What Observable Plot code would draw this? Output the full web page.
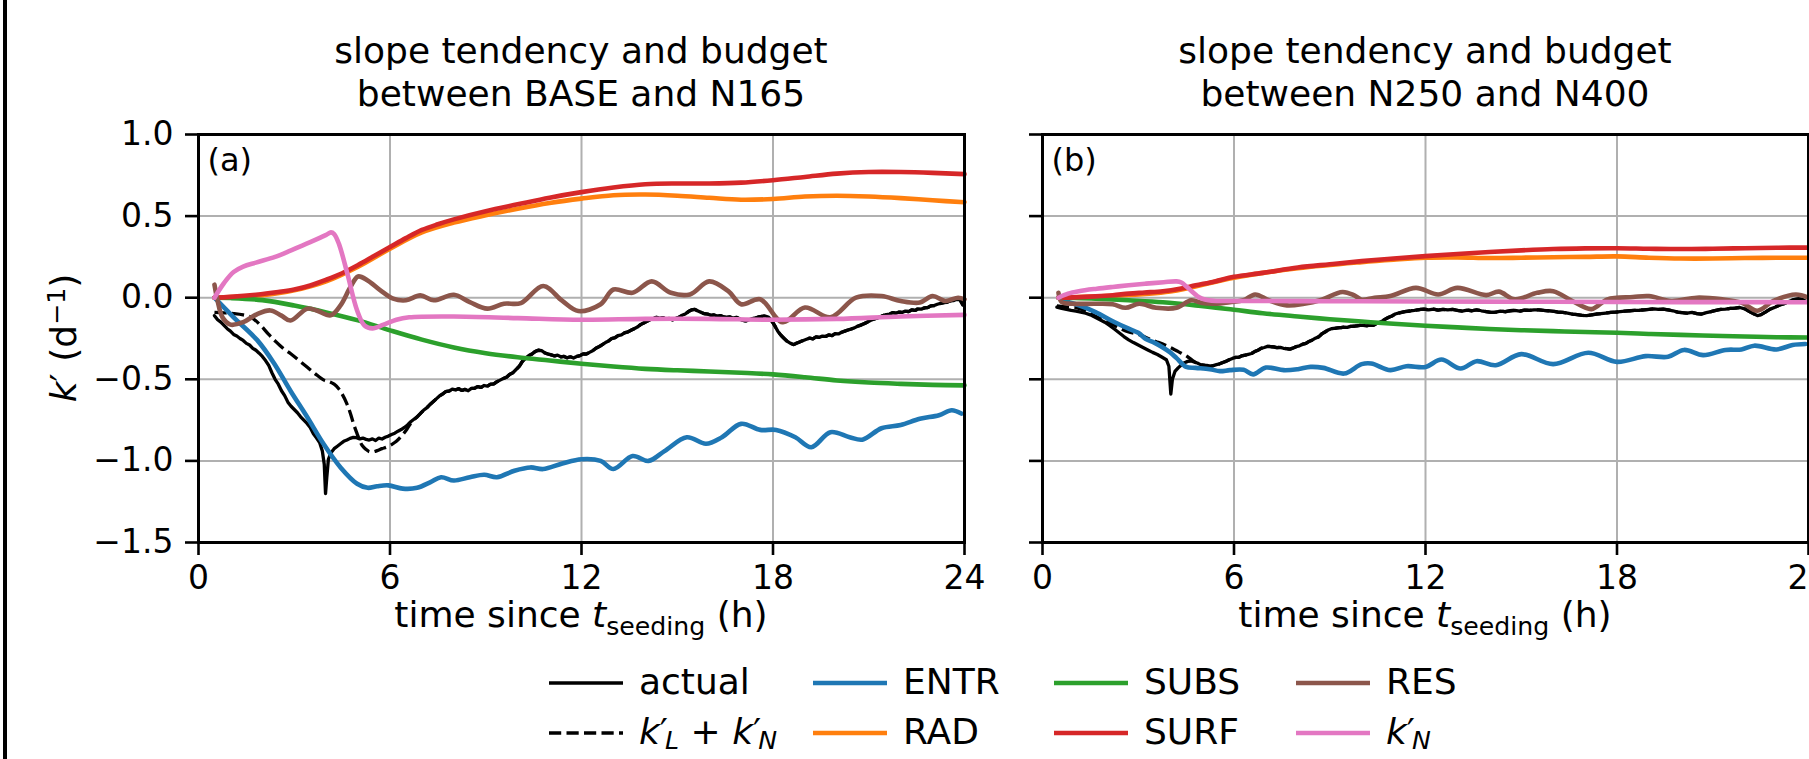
<!DOCTYPE html>
<html>
<head>
<meta charset="utf-8">
<script src="https://cdn.jsdelivr.net/npm/d3@7"></script>
<script src="https://cdn.jsdelivr.net/npm/@observablehq/plot@0.6"></script>
<style>
  html, body { margin: 0; padding: 0; background: #fff; }
  #fig { position: relative; width: 1809px; height: 759px; overflow: hidden; background: #fff;
         font-family: "DejaVu Sans", sans-serif; color: #000; }
  #fig svg { position: absolute; top: 0; max-width: none; }
  .abs { position: absolute; white-space: nowrap; }
  .title { font-size: 36px; line-height: 43px; text-align: center; width: 800px; }
  .xlab { font-size: 36px; line-height: 36px; text-align: center; width: 800px; }
  .ylab { font-size: 36px; line-height: 36px; transform: translate(-50%, -50%) rotate(-90deg); }
  .leg { font-size: 36px; line-height: 36px; }
  .sub { font-size: 0.7em; position: relative; top: 0.32em; }
  .sup { font-size: 0.7em; position: relative; top: -0.45em; }
  .isub { font-size: 0.7em; position: relative; top: 0.18em; font-style: italic; margin-left: -0.12em; }
  .border { position: absolute; left: 3px; top: 0; width: 4px; height: 759px; background: #000; }
</style>
</head>
<body>
<div id="fig"></div>
<script>
// ---- axis ticks -------------------------------------------------------
const X_TICKS = [0, 6, 12, 18, 24];
const Y_TICKS = [-1.5, -1.0, -0.5, 0.0, 0.5, 1.0];

// ---- panel (a): BASE vs N165, [hour, k' (1/day)] ------------------------
const A_ACTUAL = [[0.5,-0.11],[0.6,-0.135],[0.7,-0.15],[0.8,-0.17],[0.9,-0.19],[1.0,-0.205],[1.1,-0.225],[1.2,-0.235],[1.3,-0.25],[1.4,-0.262],[1.5,-0.28],[1.6,-0.29],[1.7,-0.31],[1.8,-0.322],[1.9,-0.34],[2.0,-0.36],[2.1,-0.385],[2.2,-0.415],[2.3,-0.46],[2.4,-0.5],[2.5,-0.53],[2.6,-0.57],[2.7,-0.6],[2.8,-0.64],[2.9,-0.665],[3.0,-0.685],[3.1,-0.705],[3.2,-0.73],[3.3,-0.75],[3.4,-0.77],[3.5,-0.795],[3.6,-0.834],[3.7,-0.86],[3.8,-0.89],[3.88,-0.94],[3.94,-1.02],[3.98,-1.2],[4.02,-1.1],[4.07,-0.99],[4.15,-0.95],[4.25,-0.925],[4.35,-0.91],[4.45,-0.895],[4.55,-0.88],[4.65,-0.872],[4.75,-0.862],[4.85,-0.856],[4.95,-0.858],[5.05,-0.865],[5.15,-0.86],[5.25,-0.868],[5.35,-0.872],[5.45,-0.865],[5.55,-0.875],[5.65,-0.86],[5.75,-0.866],[5.85,-0.855],[5.95,-0.848],[6.05,-0.838],[6.15,-0.83],[6.25,-0.818],[6.35,-0.808],[6.45,-0.795],[6.55,-0.78],[6.65,-0.76],[6.75,-0.745],[6.85,-0.73],[6.95,-0.71],[7.05,-0.69],[7.15,-0.675],[7.25,-0.655],[7.35,-0.638],[7.45,-0.62],[7.55,-0.602],[7.65,-0.59],[7.75,-0.575],[7.85,-0.572],[7.95,-0.56],[8.05,-0.565],[8.15,-0.558],[8.25,-0.568],[8.35,-0.562],[8.45,-0.57],[8.55,-0.556],[8.65,-0.555],[8.75,-0.545],[8.85,-0.55],[8.95,-0.538],[9.05,-0.542],[9.15,-0.53],[9.25,-0.528],[9.35,-0.515],[9.45,-0.505],[9.55,-0.495],[9.65,-0.487],[9.75,-0.47],[9.85,-0.46],[9.95,-0.44],[10.05,-0.42],[10.15,-0.39],[10.25,-0.37],[10.35,-0.355],[10.45,-0.345],[10.55,-0.33],[10.65,-0.322],[10.75,-0.325],[10.85,-0.338],[10.95,-0.345],[11.05,-0.35],[11.15,-0.357],[11.25,-0.352],[11.35,-0.362],[11.45,-0.36],[11.55,-0.368],[11.65,-0.362],[11.75,-0.37],[11.85,-0.36],[11.95,-0.355],[12.05,-0.345],[12.15,-0.345],[12.25,-0.335],[12.35,-0.325],[12.45,-0.31],[12.55,-0.3],[12.65,-0.288],[12.75,-0.275],[12.85,-0.265],[12.95,-0.25],[13.05,-0.245],[13.15,-0.232],[13.25,-0.228],[13.35,-0.215],[13.45,-0.21],[13.55,-0.2],[13.65,-0.19],[13.75,-0.18],[13.85,-0.165],[13.95,-0.155],[14.05,-0.145],[14.15,-0.135],[14.25,-0.128],[14.35,-0.12],[14.45,-0.128],[14.55,-0.122],[14.65,-0.132],[14.75,-0.127],[14.85,-0.135],[14.95,-0.128],[15.05,-0.12],[15.15,-0.108],[15.25,-0.1],[15.35,-0.085],[15.45,-0.075],[15.55,-0.072],[15.65,-0.082],[15.75,-0.09],[15.85,-0.098],[15.95,-0.1],[16.05,-0.108],[16.15,-0.105],[16.25,-0.112],[16.35,-0.11],[16.45,-0.118],[16.55,-0.12],[16.65,-0.118],[16.75,-0.125],[16.85,-0.12],[16.95,-0.13],[17.05,-0.138],[17.15,-0.142],[17.25,-0.135],[17.35,-0.128],[17.45,-0.125],[17.55,-0.118],[17.65,-0.115],[17.75,-0.112],[17.85,-0.118],[17.95,-0.14],[18.05,-0.17],[18.15,-0.205],[18.25,-0.23],[18.35,-0.25],[18.45,-0.268],[18.55,-0.28],[18.65,-0.287],[18.75,-0.278],[18.85,-0.27],[18.95,-0.262],[19.05,-0.255],[19.15,-0.248],[19.25,-0.252],[19.35,-0.24],[19.45,-0.243],[19.55,-0.235],[19.65,-0.237],[19.75,-0.228],[19.85,-0.232],[19.95,-0.22],[20.05,-0.222],[20.15,-0.212],[20.25,-0.205],[20.35,-0.198],[20.45,-0.192],[20.55,-0.185],[20.65,-0.175],[20.75,-0.168],[20.85,-0.16],[20.95,-0.15],[21.05,-0.14],[21.15,-0.132],[21.25,-0.125],[21.35,-0.118],[21.45,-0.11],[21.55,-0.103],[21.65,-0.1],[21.75,-0.092],[21.85,-0.095],[21.95,-0.088],[22.05,-0.09],[22.15,-0.082],[22.25,-0.085],[22.35,-0.075],[22.45,-0.078],[22.55,-0.068],[22.65,-0.07],[22.75,-0.062],[22.85,-0.06],[22.95,-0.05],[23.05,-0.048],[23.15,-0.04],[23.25,-0.035],[23.35,-0.03],[23.45,-0.028],[23.55,-0.02],[23.65,-0.018],[23.75,-0.01],[23.85,-0.012],[23.95,-0.045]];
const A_KLKN_EARLY = [[0.5,-0.09],[0.8,-0.093],[1.1,-0.097],[1.4,-0.105],[1.65,-0.12],[1.95,-0.17],[2.2,-0.225],[2.4,-0.265],[2.65,-0.31],[2.9,-0.345],[3.15,-0.385],[3.4,-0.425],[3.65,-0.465],[3.93,-0.505],[4.1,-0.515],[4.25,-0.53],[4.4,-0.56],[4.5,-0.59],[4.65,-0.65],[4.76,-0.71],[4.87,-0.78],[4.97,-0.834],[5.05,-0.875],[5.13,-0.906],[5.25,-0.93],[5.34,-0.942],[5.45,-0.945],[5.6,-0.937],[5.75,-0.925],[5.9,-0.915],[6.05,-0.9],[6.2,-0.88],[6.35,-0.85],[6.5,-0.814],[6.65,-0.77]];
const A_ENTR = [[0.5,0],[1.1,-0.12],[1.84,-0.26],[2.36,-0.40],[2.88,-0.57],[3.4,-0.73],[3.93,-0.9],[4.45,-1.04],[4.97,-1.14],[5.3,-1.165],[5.6,-1.155],[5.95,-1.15],[6.4,-1.17],[6.85,-1.165],[7.27,-1.13],[7.6,-1.1],[8.0,-1.12],[8.5,-1.1],[8.95,-1.085],[9.35,-1.1],[9.9,-1.06],[10.4,-1.04],[10.8,-1.05],[11.4,-1.016],[12.0,-0.99],[12.6,-1.0],[13.0,-1.05],[13.6,-0.97],[14.1,-1.0],[14.6,-0.94],[15.3,-0.855],[15.9,-0.895],[16.4,-0.855],[17.0,-0.773],[17.6,-0.81],[18.1,-0.81],[18.7,-0.855],[19.2,-0.916],[19.8,-0.824],[20.4,-0.855],[20.8,-0.87],[21.4,-0.8],[22.0,-0.78],[22.6,-0.742],[23.2,-0.72],[23.6,-0.69],[23.9,-0.71]];
const A_RAD = [[0.5,0],[1,0.004],[2,0.015],[3,0.045],[4,0.1],[5,0.19],[6,0.3],[7,0.4],[8,0.46],[9,0.505],[10,0.545],[11,0.58],[12,0.607],[13,0.628],[14,0.632],[15,0.625],[16,0.612],[17,0.6],[18,0.605],[19,0.62],[20,0.625],[21,0.62],[22,0.61],[23,0.597],[24,0.585]];
const A_SUBS = [[0.5,0],[1,-0.002],[2,-0.015],[3,-0.048],[4,-0.09],[5,-0.139],[6,-0.2],[7,-0.257],[8,-0.305],[9,-0.34],[10,-0.365],[11,-0.385],[12,-0.405],[13,-0.422],[14,-0.436],[15,-0.445],[16,-0.452],[17,-0.46],[18,-0.47],[19,-0.487],[20,-0.507],[21,-0.52],[22,-0.528],[23,-0.534],[24,-0.537]];
const A_SURF = [[0.5,0],[1,0.005],[1.8,0.018],[2.5,0.035],[3,0.05],[3.5,0.075],[4,0.11],[4.5,0.15],[5,0.2],[5.5,0.255],[6,0.31],[6.5,0.365],[7,0.415],[7.5,0.45],[8,0.48],[9,0.53],[10,0.572],[11,0.613],[12,0.647],[13,0.675],[14,0.695],[15,0.7],[16,0.7],[17,0.705],[18,0.72],[19,0.74],[20,0.76],[21,0.77],[22,0.77],[23,0.765],[24,0.757]];
const A_RES = [[0.5,0.08],[0.6,-0.02],[0.75,-0.12],[1.0,-0.165],[1.4,-0.15],[1.84,-0.1],[2.25,-0.078],[2.6,-0.11],[2.88,-0.14],[3.4,-0.067],[3.7,-0.078],[4.14,-0.108],[4.45,-0.047],[4.76,0.065],[5.0,0.13],[5.3,0.106],[5.7,0.045],[6.1,-0.006],[6.5,-0.016],[6.95,0.014],[7.37,-0.016],[8.0,0.018],[8.5,-0.027],[9.05,-0.067],[9.57,-0.037],[10.1,-0.033],[10.8,0.072],[11.4,-0.02],[11.9,-0.082],[12.6,-0.04],[13.0,0.05],[13.6,0.03],[14.2,0.1],[14.8,0.03],[15.4,0.02],[16.0,0.1],[16.6,0.04],[17.0,-0.04],[17.6,-0.01],[18.3,-0.15],[19.0,-0.06],[19.8,-0.12],[20.6,0.0],[21.4,0.01],[22.0,-0.02],[22.6,-0.03],[23.0,0.01],[23.4,-0.02],[23.8,0.0],[24,-0.01]];
const A_KN = [[0.5,0],[0.8,0.09],[1.1,0.157],[1.4,0.19],[1.8,0.215],[2.4,0.25],[2.9,0.29],[3.5,0.34],[4.0,0.385],[4.15,0.4],[4.25,0.39],[4.4,0.33],[4.66,0.15],[4.97,-0.078],[5.2,-0.17],[5.45,-0.188],[5.8,-0.165],[6.2,-0.135],[6.6,-0.12],[8,-0.115],[10,-0.125],[12,-0.135],[14,-0.13],[16,-0.13],[18,-0.135],[20,-0.13],[22,-0.115],[24,-0.105]];

// ---- panel (b): N250 vs N400 ---------------------------------------------
const B_ACTUAL = [[0.45,-0.058],[0.6,-0.066],[0.75,-0.072],[0.9,-0.078],[1.05,-0.082],[1.2,-0.088],[1.35,-0.095],[1.5,-0.105],[1.65,-0.12],[1.8,-0.135],[1.95,-0.15],[2.1,-0.17],[2.25,-0.192],[2.4,-0.215],[2.55,-0.238],[2.7,-0.258],[2.85,-0.275],[3.0,-0.29],[3.15,-0.305],[3.3,-0.32],[3.45,-0.335],[3.6,-0.348],[3.75,-0.365],[3.88,-0.38],[3.96,-0.42],[4.02,-0.59],[4.07,-0.5],[4.15,-0.452],[4.25,-0.43],[4.35,-0.412],[4.45,-0.398],[4.55,-0.39],[4.65,-0.388],[4.75,-0.394],[4.85,-0.4],[4.95,-0.41],[5.05,-0.418],[5.15,-0.415],[5.25,-0.42],[5.35,-0.416],[5.45,-0.41],[5.55,-0.405],[5.65,-0.397],[5.75,-0.39],[5.85,-0.38],[5.95,-0.372],[6.05,-0.366],[6.15,-0.365],[6.25,-0.356],[6.35,-0.352],[6.45,-0.347],[6.55,-0.342],[6.65,-0.33],[6.75,-0.322],[6.85,-0.31],[6.95,-0.305],[7.05,-0.298],[7.15,-0.3],[7.25,-0.302],[7.35,-0.306],[7.45,-0.304],[7.55,-0.31],[7.65,-0.312],[7.75,-0.315],[7.85,-0.308],[7.95,-0.3],[8.05,-0.295],[8.15,-0.285],[8.25,-0.28],[8.35,-0.268],[8.45,-0.26],[8.55,-0.248],[8.65,-0.24],[8.75,-0.222],[8.85,-0.21],[8.95,-0.198],[9.05,-0.19],[9.15,-0.188],[9.25,-0.185],[9.35,-0.183],[9.45,-0.18],[9.55,-0.182],[9.65,-0.176],[9.75,-0.175],[9.85,-0.172],[9.95,-0.17],[10.05,-0.17],[10.15,-0.172],[10.25,-0.168],[10.35,-0.17],[10.45,-0.16],[10.55,-0.152],[10.65,-0.142],[10.75,-0.13],[10.85,-0.12],[10.95,-0.112],[11.05,-0.1],[11.15,-0.095],[11.25,-0.09],[11.35,-0.085],[11.45,-0.083],[11.55,-0.08],[11.65,-0.078],[11.75,-0.075],[11.85,-0.072],[11.95,-0.07],[12.1,-0.074],[12.25,-0.07],[12.4,-0.076],[12.55,-0.071],[12.7,-0.075],[12.85,-0.072],[13.0,-0.078],[13.15,-0.082],[13.3,-0.076],[13.45,-0.08],[13.6,-0.074],[13.75,-0.08],[13.9,-0.085],[14.05,-0.09],[14.2,-0.088],[14.35,-0.082],[14.5,-0.086],[14.65,-0.08],[14.8,-0.078],[14.95,-0.082],[15.1,-0.076],[15.25,-0.078],[15.4,-0.074],[15.55,-0.075],[15.7,-0.078],[15.85,-0.08],[16.0,-0.083],[16.15,-0.088],[16.3,-0.09],[16.45,-0.094],[16.6,-0.1],[16.75,-0.104],[16.9,-0.108],[17.05,-0.11],[17.2,-0.105],[17.35,-0.1],[17.5,-0.098],[17.65,-0.094],[17.8,-0.09],[17.95,-0.088],[18.1,-0.085],[18.25,-0.082],[18.4,-0.08],[18.55,-0.078],[18.7,-0.077],[18.85,-0.074],[19.0,-0.072],[19.15,-0.068],[19.3,-0.072],[19.45,-0.07],[19.6,-0.075],[19.75,-0.08],[19.9,-0.088],[20.05,-0.092],[20.2,-0.095],[20.35,-0.09],[20.5,-0.098],[20.65,-0.1],[20.8,-0.092],[20.95,-0.085],[21.1,-0.078],[21.25,-0.072],[21.4,-0.07],[21.55,-0.066],[21.7,-0.064],[21.85,-0.06],[22.0,-0.068],[22.15,-0.085],[22.3,-0.1],[22.4,-0.11],[22.5,-0.105],[22.65,-0.088],[22.8,-0.07],[22.95,-0.058],[23.1,-0.045],[23.25,-0.035],[23.4,-0.022],[23.55,-0.012],[23.7,-0.008],[23.85,-0.015],[24.0,-0.03]];
const B_KLKN_EARLY = [[0.45,-0.05],[0.8,-0.058],[1.14,-0.065],[1.4,-0.085],[1.66,-0.113],[1.95,-0.14],[2.2,-0.165],[2.45,-0.19],[2.7,-0.21],[2.93,-0.22],[3.15,-0.235],[3.35,-0.253],[3.55,-0.268],[3.77,-0.284],[4.0,-0.305],[4.2,-0.325],[4.35,-0.34],[4.5,-0.356],[4.65,-0.377],[4.8,-0.397],[4.95,-0.408],[5.1,-0.414]];
const B_ENTR = [[0.5,0],[0.8,-0.025],[1.14,-0.047],[1.66,-0.088],[2.2,-0.144],[2.7,-0.19],[3.0,-0.215],[3.24,-0.253],[3.5,-0.275],[3.77,-0.305],[4.0,-0.335],[4.2,-0.37],[4.5,-0.424],[4.8,-0.43],[5.24,-0.438],[5.56,-0.45],[5.87,-0.444],[6.3,-0.442],[6.6,-0.47],[7.0,-0.428],[7.56,-0.444],[8.0,-0.438],[8.4,-0.424],[8.8,-0.43],[9.45,-0.465],[10.0,-0.407],[10.3,-0.403],[10.9,-0.444],[11.4,-0.42],[12.0,-0.424],[12.5,-0.379],[13.1,-0.434],[13.6,-0.389],[14.2,-0.414],[15.0,-0.346],[16.0,-0.407],[17.1,-0.337],[18.0,-0.393],[18.9,-0.358],[19.6,-0.362],[20.1,-0.32],[20.7,-0.352],[21.4,-0.32],[21.9,-0.317],[22.3,-0.294],[23.0,-0.317],[23.5,-0.29],[23.9,-0.284]];
const B_RAD = [[0.5,0],[2,0.01],[4,0.038],[6,0.123],[8,0.18],[10,0.218],[11,0.233],[12,0.245],[13,0.247],[14,0.243],[15,0.245],[16,0.248],[17,0.25],[18,0.253],[19,0.245],[20,0.24],[21,0.24],[22,0.243],[23,0.245],[24,0.245]];
const B_SUBS = [[0.5,0],[1,-0.002],[1.66,-0.006],[2.7,-0.016],[3.77,-0.028],[4.8,-0.047],[6,-0.074],[6.9,-0.095],[8,-0.115],[9,-0.132],[10,-0.146],[11,-0.16],[12,-0.172],[13,-0.182],[14,-0.192],[15,-0.199],[16,-0.205],[17,-0.21],[18,-0.215],[19,-0.222],[20,-0.228],[21,-0.233],[22,-0.238],[23,-0.242],[24,-0.244]];
const B_SURF = [[0.5,0],[1,0.002],[1.66,0.008],[2.2,0.015],[2.7,0.025],[3.2,0.032],[3.77,0.04],[4.3,0.055],[4.8,0.076],[5.4,0.1],[6,0.128],[6.9,0.152],[8,0.185],[9,0.205],[10,0.224],[11,0.24],[12,0.255],[13,0.268],[14,0.28],[15,0.29],[16,0.298],[17,0.302],[18,0.303],[19,0.3],[20,0.298],[21,0.3],[22,0.303],[23,0.306],[24,0.307]];
const B_RES = [[0.5,0.03],[0.6,-0.027],[0.93,-0.037],[1.66,-0.037],[2.2,-0.04],[2.6,-0.062],[3.03,-0.037],[3.56,-0.062],[4.2,-0.062],[4.66,-0.016],[5.0,-0.033],[5.45,-0.037],[5.87,-0.027],[6.3,-0.016],[6.66,0.02],[7.1,-0.016],[7.66,-0.047],[8.2,-0.037],[8.7,-0.016],[9.4,0.035],[9.77,0.014],[10.0,-0.012],[10.4,0.0],[10.9,0.01],[11.7,0.06],[12.4,0.02],[13.0,0.06],[13.9,0.016],[14.3,0.037],[14.8,-0.01],[15.5,0.03],[16.0,0.04],[16.6,-0.02],[17.2,-0.07],[17.7,-0.01],[18.5,0.004],[19.0,0.01],[19.7,-0.02],[20.5,0.0],[21.3,-0.01],[21.9,-0.03],[22.4,-0.08],[22.9,-0.02],[23.6,0.02],[24,0.0]];
const B_KN = [[0.5,0],[0.8,0.025],[1.14,0.04],[1.7,0.055],[2.2,0.066],[2.7,0.076],[3.24,0.086],[3.8,0.095],[4.2,0.1],[4.35,0.093],[4.5,0.07],[4.7,0.035],[4.85,0.01],[5.0,-0.006],[5.2,-0.016],[5.45,-0.02],[6,-0.02],[8,-0.021],[10,-0.022],[12,-0.023],[14,-0.024],[16,-0.025],[18,-0.026],[20,-0.027],[22,-0.027],[24,-0.028]];

// the k'_L + k'_N curve coincides with the actual tendency once the spike has passed
const A_KLKN = A_KLKN_EARLY.concat(A_ACTUAL.filter(d => d[0] >= 6.8));
const B_KLKN = B_KLKN_EARLY.concat(B_ACTUAL.filter(d => d[0] >= 5.25));

// ---- series styles, in drawing order ---------------------------------------
const SERIES = [
  {key: "actual", stroke: "#000000", width: 3.3, curve: "linear"},
  {key: "klkn",   stroke: "#000000", width: 3.3, curve: "catmull-rom", dash: "12.2 5.3"},
  {key: "ENTR",   stroke: "#1f77b4", width: 4.6, curve: "catmull-rom"},
  {key: "RAD",    stroke: "#ff7f0e", width: 4.6, curve: "catmull-rom"},
  {key: "SUBS",   stroke: "#2ca02c", width: 4.6, curve: "catmull-rom"},
  {key: "SURF",   stroke: "#d62728", width: 4.6, curve: "catmull-rom"},
  {key: "RES",    stroke: "#8c564b", width: 4.6, curve: "catmull-rom"},
  {key: "kN",     stroke: "#e377c2", width: 4.6, curve: "catmull-rom"}
];
const PANEL_A = {actual: A_ACTUAL, klkn: A_KLKN, ENTR: A_ENTR, RAD: A_RAD, SUBS: A_SUBS, SURF: A_SURF, RES: A_RES, kN: A_KN};
const PANEL_B = {actual: B_ACTUAL, klkn: B_KLKN, ENTR: B_ENTR, RAD: B_RAD, SUBS: B_SUBS, SURF: B_SURF, RES: B_RES, kN: B_KN};

const fmtY = d3.format(".1f");

function panel(data, letter, showYLabels, frame) {
  const lines = SERIES.map(s => Plot.line(data[s.key], {
    x: d => d[0], y: d => d[1],
    stroke: s.stroke, strokeWidth: s.width, curve: s.curve,
    strokeDasharray: s.dash, strokeLinecap: s.dash ? "butt" : "round", strokeLinejoin: "round"
  }));
  return Plot.plot({
    width: frame.width, height: frame.height,
    marginLeft: frame.left, marginRight: frame.right,
    marginTop: frame.top, marginBottom: frame.bottom,
    x: {domain: [0, 24]},
    y: {domain: [-1.5, 1.0]},
    style: {fontFamily: "DejaVu Sans", fontSize: "33px", background: "none", color: "#000", overflow: "visible"},
    marks: [
      Plot.gridX({ticks: X_TICKS, stroke: "#b0b0b0", strokeOpacity: 1, strokeWidth: 2}),
      Plot.gridY({ticks: Y_TICKS, stroke: "#b0b0b0", strokeOpacity: 1, strokeWidth: 2}),
      ...lines,
      Plot.text([letter], {frameAnchor: "top-left", dx: 9, dy: 14, lineAnchor: "top", textAnchor: "start", fontSize: 32, fill: "#000"}),
      Plot.frame({stroke: "#000", strokeWidth: 3}),
      Plot.axisX({ticks: X_TICKS, tickSize: 13, tickPadding: 10, strokeWidth: 2.6, label: null, tickFormat: d => String(d)}),
      Plot.axisY({ticks: Y_TICKS, tickSize: 13, tickPadding: 12, strokeWidth: 2.6, label: null,
                  tickFormat: showYLabels ? fmtY : () => ""})
    ]
  });
}

const fig = document.getElementById("fig");

const svgA = panel(PANEL_A, "(a)", true, {width: 1000, height: 680, left: 198, right: 36, top: 134, bottom: 138});
svgA.style.left = "0px";
fig.appendChild(svgA);

const svgB = panel(PANEL_B, "(b)", false, {width: 850, height: 680, left: 42, right: 42, top: 134, bottom: 138});
svgB.style.left = "1000px";
fig.appendChild(svgB);

function addHTML(cls, left, top, html) {
  const el = document.createElement("div");
  el.className = "abs " + cls;
  el.style.left = left + "px";
  el.style.top = top + "px";
  el.innerHTML = html;
  fig.appendChild(el);
  return el;
}

// panel titles (centred over each axes)
addHTML("title", 581 - 400, 29, "slope tendency and budget<br>between BASE and N165");
addHTML("title", 1425 - 400, 29, "slope tendency and budget<br>between N250 and N400");

// x-axis labels
const xLabel = 'time since <i>t</i><span class="sub">seeding</span> (h)';
addHTML("xlab", 581 - 400, 597, xLabel);
addHTML("xlab", 1425 - 400, 597, xLabel);

// y-axis label
addHTML("ylab", 66, 338, '<i>k</i>′ (d<span class="sup">−1</span>)');

// legend: two rows, four columns
const LEGEND = [
  {key: "actual", col: 0, row: 0, html: "actual"},
  {key: "klkn",   col: 0, row: 1, html: '<i>k</i>′<span class="isub">L</span> + <i>k</i>′<span class="isub">N</span>'},
  {key: "ENTR",   col: 1, row: 0, html: "ENTR"},
  {key: "RAD",    col: 1, row: 1, html: "RAD"},
  {key: "SUBS",   col: 2, row: 0, html: "SUBS"},
  {key: "SURF",   col: 2, row: 1, html: "SURF"},
  {key: "RES",    col: 3, row: 0, html: "RES"},
  {key: "kN",     col: 3, row: 1, html: '<i>k</i>′<span class="isub">N</span>'}
];
const LEG_COL_X = [549, 813, 1054, 1296];
const LEG_ROW_Y = [683, 733];
for (const item of LEGEND) {
  const s = SERIES.find(d => d.key === item.key);
  const x = LEG_COL_X[item.col], y = LEG_ROW_Y[item.row];
  const sw = document.createElementNS("http://www.w3.org/2000/svg", "svg");
  sw.setAttribute("width", 74); sw.setAttribute("height", 10);
  sw.style.position = "absolute"; sw.style.left = x + "px"; sw.style.top = (y - 5) + "px";
  const ln = document.createElementNS("http://www.w3.org/2000/svg", "line");
  ln.setAttribute("x1", 0); ln.setAttribute("x2", 74); ln.setAttribute("y1", 5); ln.setAttribute("y2", 5);
  ln.setAttribute("stroke", s.stroke); ln.setAttribute("stroke-width", s.width);
  if (s.dash) ln.setAttribute("stroke-dasharray", s.dash);
  sw.appendChild(ln);
  fig.appendChild(sw);
  addHTML("leg", x + 90, y - 19, item.html);
}

// frame line along the left edge of the figure
const border = document.createElement("div");
border.className = "border";
fig.appendChild(border);
</script>
</body>
</html>
